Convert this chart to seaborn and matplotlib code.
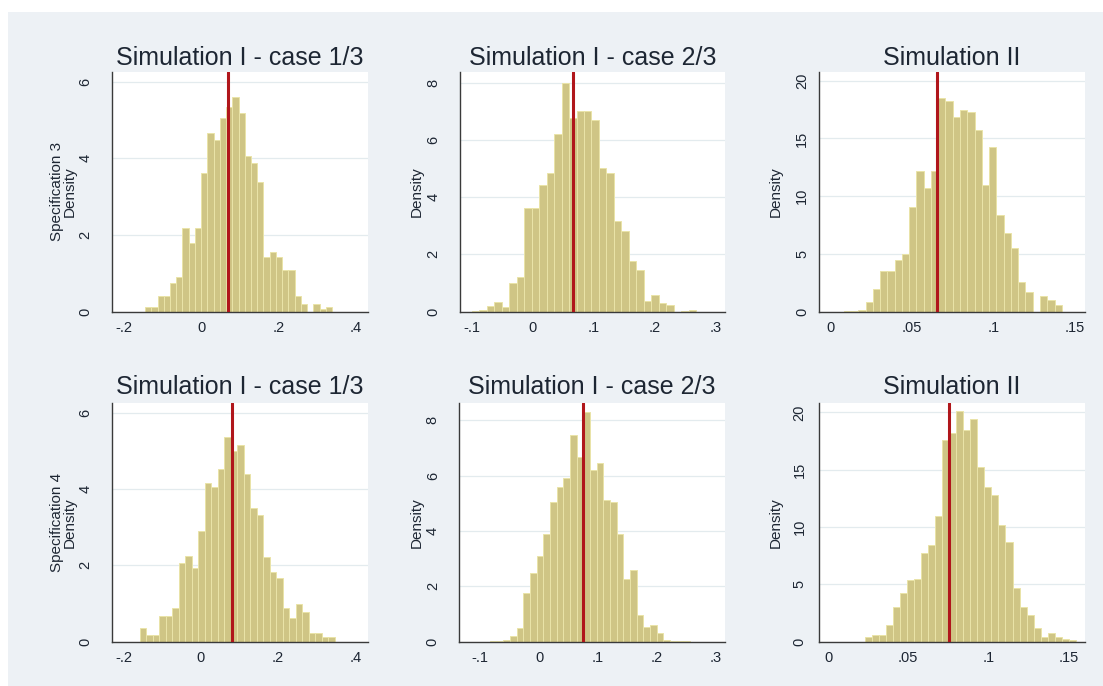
import matplotlib
matplotlib.use('Agg')
import matplotlib.pyplot as plt
from matplotlib.patches import Rectangle
import numpy as np
import pandas as pd
import seaborn as sns

sns.set_style('white')
plt.rcParams['font.family'] = ['Liberation Sans', 'DejaVu Sans']

# ---- data (density per bin, 30 bins per panel) ----
titles = ['Simulation I - case 1/3', 'Simulation I - case 2/3', 'Simulation II',
          'Simulation I - case 1/3', 'Simulation I - case 2/3', 'Simulation II']
ylabels = ['Specification 3\nDensity', 'Density', 'Density',
           'Specification 4\nDensity', 'Density', 'Density']

# first and last bin edge of each histogram
bin_ranges = [(-0.1455, 0.3394), (-0.0993, 0.2675), (0.0080, 0.1418),
              (-0.1580, 0.3470), (-0.0831, 0.2560), (0.0231, 0.1546)]

spec3_case1 = [0.13, 0.13, 0.41, 0.41, 0.74, 0.90, 2.18, 1.80, 2.18, 3.63,
               4.66, 4.48, 5.05, 5.35, 5.61, 5.18, 4.07, 3.89, 3.39, 1.44,
               1.57, 1.44, 1.10, 1.10, 0.40, 0.20, 0.00, 0.20, 0.07, 0.13]
spec3_case2 = [0.03, 0.05, 0.20, 0.35, 0.15, 0.99, 1.22, 3.61, 3.61, 4.44,
               4.85, 6.19, 8.00, 6.75, 7.00, 7.00, 6.70, 5.02, 4.85, 3.16,
               2.81, 1.77, 1.44, 0.37, 0.58, 0.31, 0.23, 0.00, 0.03, 0.06]
spec3_sim2 = [0.10, 0.10, 0.15, 0.87, 1.95, 3.50, 3.50, 4.50, 5.00, 9.10,
              12.2, 10.7, 12.2, 18.5, 18.2, 16.9, 17.5, 17.3, 15.7, 11.0,
              14.3, 8.40, 6.80, 5.50, 2.60, 1.70, 0.00, 1.40, 1.00, 0.60]
spec4_case1 = [0.37, 0.17, 0.17, 0.67, 0.67, 0.87, 2.05, 2.24, 1.92, 2.90,
               4.16, 4.04, 4.52, 5.36, 5.00, 5.14, 4.40, 3.49, 3.31, 2.22,
               1.83, 1.66, 0.87, 0.61, 0.99, 0.78, 0.22, 0.22, 0.11, 0.11]
spec4_case2 = [0.02, 0.04, 0.05, 0.20, 0.50, 1.74, 2.47, 3.10, 3.90, 5.05,
               5.60, 5.90, 7.46, 6.68, 8.30, 6.20, 6.44, 5.11, 5.05, 3.90,
               2.25, 2.59, 0.96, 0.54, 0.60, 0.30, 0.05, 0.03, 0.03, 0.02]
spec4_sim2 = [0.40, 0.55, 0.60, 1.45, 3.05, 4.27, 5.40, 5.50, 7.70, 8.40,
              11.0, 17.6, 18.2, 20.1, 18.5, 19.4, 15.2, 13.5, 12.8, 10.2,
              8.70, 4.65, 3.05, 2.30, 1.20, 0.45, 0.80, 0.40, 0.20, 0.15]
densities = [spec3_case1, spec3_case2, spec3_sim2, spec4_case1, spec4_case2, spec4_sim2]

# vertical reference line in each panel
ref_lines = [0.069, 0.066, 0.065, 0.080, 0.074, 0.0754]

xticks_12 = [-0.2, 0, 0.2, 0.4]
xlabels_12 = ['-.2', '0', '.2', '.4']
xticks_23 = [-0.1, 0, 0.1, 0.2, 0.3]
xlabels_23 = ['-.1', '0', '.1', '.2', '.3']
xticks_ii = [0, 0.05, 0.1, 0.15]
xlabels_ii = ['0', '.05', '.1', '.15']
yticks_6 = [0, 2, 4, 6]
yticks_8 = [0, 2, 4, 6, 8]
yticks_20 = [0, 5, 10, 15, 20]

# ---- layout / style ----
bg = '#EDF1F5'
bar_fill = '#CFC585'
bar_edge = '#EAE4A8'
red = '#B0161B'
txt = '#1D2633'

rects = [[0.1013, 0.5456, 0.2324, 0.3499], [0.4170, 0.5456, 0.2403, 0.3499],
         [0.7425, 0.5456, 0.2411, 0.3499], [0.1013, 0.0646, 0.2324, 0.3484],
         [0.4164, 0.0646, 0.2409, 0.3484], [0.7425, 0.0646, 0.2411, 0.3484]]
xlims = [(-0.232, 0.433), (-0.119, 0.315), (-0.0072, 0.1560),
         (-0.231, 0.433), (-0.135, 0.315), (-0.0058, 0.1604)]
ytops = [6.26, 8.38, 20.78, 6.26, 8.63, 20.84]
xticks = [(xticks_12, xlabels_12), (xticks_23, xlabels_23), (xticks_ii, xlabels_ii)] * 2
yticks = [yticks_6, yticks_8, yticks_20] * 2
ypads = [10, 10, 3, 10, 10, 5]
title_pads = [4.5, 4.5, 4.5, 6.0, 6.0, 6.0]

fig = plt.figure(figsize=(11.03, 6.86), dpi=100, facecolor='white')
# graph region (white strip on top and left edge, as in the original export)
fig.add_artist(Rectangle((0.0073, 0), 1 - 0.0073, 1 - 12 / 686,
                         transform=fig.transFigure, facecolor=bg,
                         edgecolor='none', zorder=-1))

for i in range(6):
    ax = fig.add_axes(rects[i])
    ax.set_facecolor('white')

    lo, hi = bin_ranges[i]
    nbins = len(densities[i])
    edges = np.linspace(lo, hi, nbins + 1)
    df = pd.DataFrame({'x': (edges[:-1] + edges[1:]) / 2, 'density': densities[i]})
    sns.histplot(data=df, x='x', weights='density', bins=nbins, binrange=(lo, hi),
                 ax=ax, color=bar_fill, edgecolor=bar_edge, linewidth=0.7, alpha=1)
    ax.axvline(ref_lines[i], color=red, linewidth=2.2, zorder=5)

    ax.set_xlim(xlims[i])
    ax.set_ylim(0, ytops[i])
    ax.set_xticks(xticks[i][0])
    ax.set_xticklabels(xticks[i][1])
    ax.set_yticks(yticks[i])
    ax.set_yticklabels([str(v) for v in yticks[i]], rotation=90, va='center')

    ax.yaxis.grid(True, color='#E3EBEE', linewidth=0.9)
    ax.set_axisbelow(True)

    for s in ['top', 'right']:
        ax.spines[s].set_visible(False)
    for s in ['left', 'bottom']:
        ax.spines[s].set_color('#3A3A3A')
        ax.spines[s].set_linewidth(1.0)
    ax.tick_params(axis='both', direction='out', length=4, width=0.9,
                   color='#3A3A3A', labelsize=10.5, labelcolor=txt)
    ax.tick_params(axis='x', pad=3)
    ax.tick_params(axis='y', pad=ypads[i])

    ax.set_title(titles[i], fontsize=18, color=txt, pad=title_pads[i])
    ax.set_xlabel('')
    ax.set_ylabel(ylabels[i], fontsize=11, color=txt, linespacing=0.95)
    ax.yaxis.set_label_coords(-0.135, 0.5)

fig.savefig('out.png', dpi=100, facecolor='white')
